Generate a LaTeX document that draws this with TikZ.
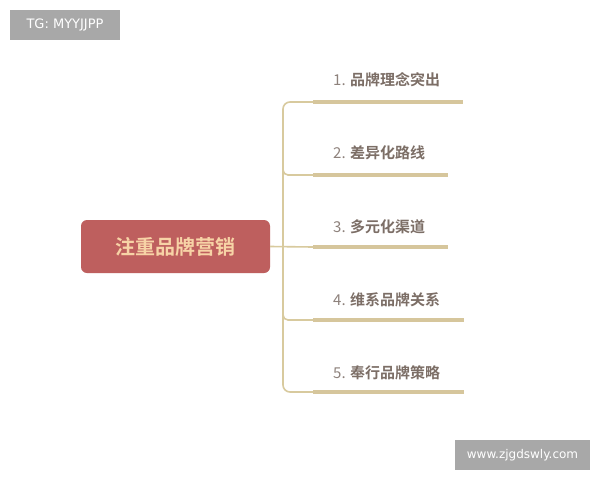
\documentclass[tikz,border=0pt]{standalone}
\usepackage{fontspec}
\setmainfont{Liberation Sans}
\newfontfamily\cjk{Noto Sans CJK SC}
\newfontfamily\cjkb{Noto Sans CJK SC Bold}
\newfontfamily\tagfont{DejaVu Sans}
\definecolor{tagbg}{HTML}{A8A8A8}
\definecolor{mainbg}{HTML}{BE5F5E}
\definecolor{maintext}{HTML}{F7D3A6}
\definecolor{linec}{HTML}{D8CA9E}
\definecolor{barc}{HTML}{D6C69C}
\definecolor{labtext}{HTML}{7C6E66}
\definecolor{numtext}{HTML}{8E827C}
\tikzset{
  tagbox/.style={fill=tagbg, text=white, inner sep=0pt, font=\tagfont},
  mainbox/.style={fill=mainbg, rounded corners=6pt, minimum width=189pt, minimum height=53pt, inner sep=0pt, text=maintext, font=\cjkb\fontsize{20}{24}\selectfont},
  lab/.style={anchor=west, inner sep=0pt, text=labtext, font=\cjkb\fontsize{15}{18}\selectfont},
  thin/.style={draw=linec, line width=1.6pt},
  bar/.style={draw=barc, line width=4pt},
}
\newcommand{\num}[1]{{\cjk\color{numtext}#1}}
\begin{document}
\begin{tikzpicture}[x=1pt,y=-1pt]
\useasboundingbox[fill=white] (0,0) rectangle (600,480);
\node[tagbox, minimum width=110pt, minimum height=30pt] (tg) at (65,25) {\fontsize{13}{15}\selectfont TG: MYYJJPP};
\node[tagbox, minimum width=135pt, minimum height=30pt] (www) at (522.5,455) {\fontsize{12}{14}\selectfont www.zjgdswly.com};
\node[mainbox] (main) at (175.5,246.5) {注重品牌营销};
% branch points
\coordinate (b1) at (313,102); \coordinate (e1) at (463,102);
\coordinate (b2) at (313,175); \coordinate (e2) at (448,175);
\coordinate (b3) at (313,247); \coordinate (e3) at (448,247);
\coordinate (b4) at (313,320); \coordinate (e4) at (464,320);
\coordinate (b5) at (313,392); \coordinate (e5) at (464,392);
\coordinate (j) at (283,247);
% trunk
\draw[thin, rounded corners=7pt] (b1) -- (283,102) -- (283,392) -- (b5);
\draw[thin] (main.east) -- (b3);
\draw[thin, rounded corners=5pt] (283,168) -- (283,175) -- (b2);
\draw[thin, rounded corners=5pt] (283,313) -- (283,320) -- (b4);
% bars
\foreach \i in {1,...,5} \draw[bar] (b\i) -- (e\i);
% labels
\node[lab] (l1) at (333,80) {\num{1.} 品牌理念突出};
\node[lab] (l2) at (333,153) {\num{2.} 差异化路线};
\node[lab] (l3) at (333,227) {\num{3.} 多元化渠道};
\node[lab] (l4) at (333,300) {\num{4.} 维系品牌关系};
\node[lab] (l5) at (333,373) {\num{5.} 奉行品牌策略};
\end{tikzpicture}
\end{document}
